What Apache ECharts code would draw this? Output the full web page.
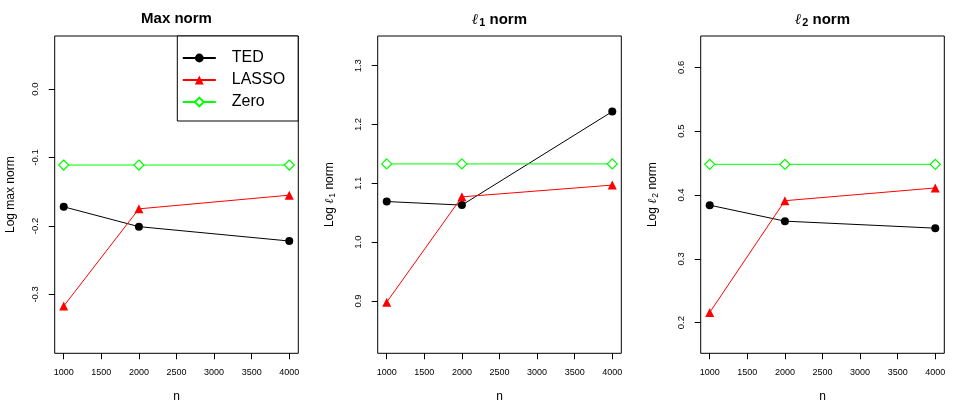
<!DOCTYPE html>
<html>
<head>
<meta charset="utf-8">
<script src="https://cdn.jsdelivr.net/npm/echarts@6/dist/echarts.min.js"></script>
<style>
  html, body { margin: 0; padding: 0; background: #fff; }
  #main { width: 969px; height: 415px; }
</style>
</head>
<body>
<div id="main"></div>
<script>
// sample sizes and tick marks
var nValues = [1000, 2000, 4000];
var xTicks = [1000, 1500, 2000, 2500, 3000, 3500, 4000];

// Max norm panel
var maxTED = [-0.172, -0.201, -0.222];
var maxLASSO = [-0.317, -0.175, -0.155];
var maxZero = [-0.111, -0.111, -0.111];
var maxTicks = [-0.3, -0.2, -0.1, 0.0];

// l1 norm panel
var l1TED = [1.069, 1.063, 1.222];
var l1LASSO = [0.898, 1.077, 1.097];
var l1Zero = [1.133, 1.133, 1.133];
var l1Ticks = [0.9, 1.0, 1.1, 1.2, 1.3];

// l2 norm panel
var l2TED = [0.384, 0.359, 0.348];
var l2LASSO = [0.216, 0.391, 0.411];
var l2Zero = [0.448, 0.448, 0.448];
var l2Ticks = [0.2, 0.3, 0.4, 0.5, 0.6];

var FONT = 'Liberation Sans';

drawP();

function pairs(ys) {
    var out = [];
    for (var i = 0; i < nValues.length; i++) out.push([nValues[i], ys[i]]);
    return out;
}

function richStyles(size, bold) {
    return {
        n: { fontFamily: FONT, fontSize: size, fontWeight: bold ? 'bold' : 'normal', color: '#000' },
        i: { fontFamily: 'DejaVu Serif', fontStyle: 'italic', fontSize: size, color: '#000' },
        s: { fontFamily: FONT, fontSize: size * 0.72, fontWeight: bold ? 'bold' : 'normal', color: '#000', padding: [size * 0.45, 0, 0, 1] }
    };
}

function drawP() {
    var myChart = echarts.init(document.getElementById('main'));
    var lefts = [54.7, 377.7, 700.7];
    var boxW = 243.6;
    var yRanges = [[-0.386, 0.0775], [0.811, 1.3505], [0.152, 0.649]];
    var yTickSets = [maxTicks, l1Ticks, l2Ticks];
    var titles = ['{n|Max norm}', '{i|ℓ}{s|1}{n| norm}', '{i|ℓ}{s|2}{n| norm}'];
    var yNames = ['{n|Log max norm}', '{n|Log }{i|ℓ}{s|1}{n| norm}', '{n|Log }{i|ℓ}{s|2}{n| norm}'];
    var yGaps = [38, 41, 41];
    var data = [[maxTED, maxLASSO, maxZero], [l1TED, l1LASSO, l1Zero], [l2TED, l2LASSO, l2Zero]];

    var grids = [], xAxes = [], yAxes = [], series = [], title = [];
    for (var k = 0; k < 3; k++) {
        grids.push({
            left: lefts[k], top: 36, width: boxW, height: 317.3,
            show: true, borderColor: '#000', borderWidth: 1, backgroundColor: 'transparent'
        });
        title.push({
            text: titles[k],
            left: lefts[k] + boxW / 2, top: 11, textAlign: 'center', padding: 0,
            textStyle: { rich: richStyles(15, true) }
        });
        xAxes.push({
            type: 'value', gridIndex: k, min: 880, max: 4120,
            name: 'n', nameLocation: 'middle', nameGap: 37,
            nameTextStyle: { fontFamily: FONT, fontSize: 12, color: '#000' },
            axisLine: { show: false, onZero: false },
            splitLine: { show: false },
            axisTick: { show: true, length: 6, customValues: xTicks, lineStyle: { color: '#000' } },
            axisLabel: {
                customValues: xTicks, margin: 15, fontFamily: FONT, fontSize: 9, color: '#000',
                formatter: function (v) { return String(v); }
            }
        });
        yAxes.push({
            type: 'value', gridIndex: k, min: yRanges[k][0], max: yRanges[k][1],
            name: yNames[k], nameLocation: 'middle', nameGap: yGaps[k], nameRotate: 90,
            nameTextStyle: { rich: richStyles(12, false) },
            axisLine: { show: false, onZero: false },
            splitLine: { show: false },
            axisTick: { show: true, length: 6, customValues: yTickSets[k], lineStyle: { color: '#000' } },
            axisLabel: {
                customValues: yTickSets[k], rotate: 90, margin: 14,
                fontFamily: FONT, fontSize: 9.5, color: '#000',
                formatter: function (v) { return v.toFixed(1); }
            }
        });
        series.push({
            name: 'TED', type: 'line', xAxisIndex: k, yAxisIndex: k,
            data: pairs(data[k][0]), symbol: 'circle', symbolSize: 8,
            lineStyle: { color: '#000', width: 1 }, itemStyle: { color: '#000' }, z: 3
        });
        series.push({
            name: 'LASSO', type: 'line', xAxisIndex: k, yAxisIndex: k,
            data: pairs(data[k][1]), symbol: 'triangle', symbolSize: 9,
            lineStyle: { color: '#ff0000', width: 1 }, itemStyle: { color: '#ff0000' }, z: 3
        });
        series.push({
            name: 'Zero', type: 'line', xAxisIndex: k, yAxisIndex: k,
            data: pairs(data[k][2]), symbol: 'diamond', symbolSize: 10,
            lineStyle: { color: '#00ff00', width: 1 },
            itemStyle: { color: '#fff', borderColor: '#00ff00', borderWidth: 1.2 }, z: 3
        });
    }

    var option = {
        animation: false,
        title: title,
        grid: grids,
        xAxis: xAxes,
        yAxis: yAxes,
        legend: {
            data: ['TED', 'LASSO', 'Zero'],
            orient: 'vertical',
            left: 177.3, top: 36,
            padding: [14, 13, 11, 4.5],
            itemWidth: 33, itemHeight: 11, itemGap: 6,
            backgroundColor: '#fff',
            borderColor: '#000', borderWidth: 1,
            textStyle: { fontFamily: FONT, fontSize: 16, color: '#000', padding: [0, 0, 0, 11] },
            z: 10
        },
        series: series
    };

    myChart.setOption(option);
}
</script>
</body>
</html>
